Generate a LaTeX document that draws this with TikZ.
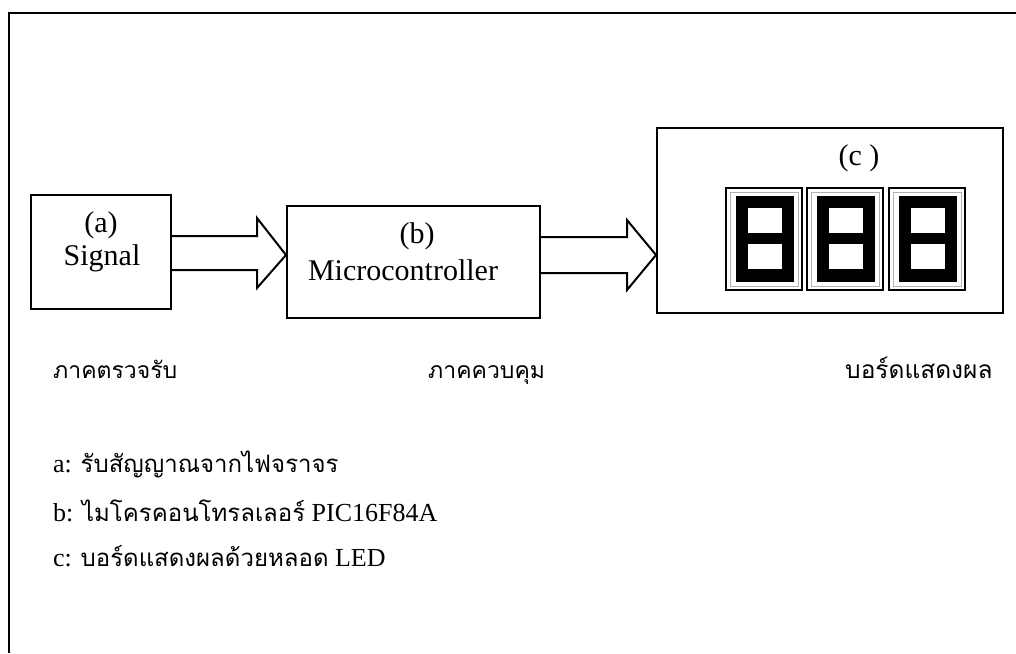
\documentclass[tikz,border=0pt]{standalone}
\usepackage{fontspec}
\setmainfont{Liberation Serif}
\newfontfamily\thai[Script=Thai]{Loma}
\usetikzlibrary{calc}
\tikzset{
  blk/.style={draw, line width=2pt, minimum width=0pt, inner sep=0pt},
  lbl/.style={font=\fontsize{30}{33}\selectfont, inner sep=0pt},
  tlbl/.style={font=\fontsize{23}{28}\selectfont\thai, inner sep=0pt, anchor=base west},
  note/.style={font=\fontsize{26}{30}\selectfont, inner sep=0pt, anchor=base west},
  blockarrow/.style={line width=2pt, line join=miter},
  frame/.style={line width=2.5pt}
}
\newcommand{\segdigit}[1]{%
  \draw[line width=1.6pt] (#1,188) rectangle ++(76,102);
  \draw[line width=1pt, gray!60] (#1+4,192) rectangle ++(68,94);
  \fill[black] (#1+10,196) rectangle (#1+68,282);
  \fill[white] (#1+22,208) rectangle (#1+56,233);
  \fill[white] (#1+22,244) rectangle (#1+56,269);
}
\newcommand{\thtext}[1]{{\fontsize{24}{28}\selectfont\thai #1}}
\begin{document}
\begin{tikzpicture}[x=1pt,y=-1pt]
\useasboundingbox (0,0) rectangle (1016,653);
\draw[frame] (9,653) -- (9,13) -- (1016,13);
% boxes
\node[blk, minimum width=140pt, minimum height=114pt] (a) at (101,252) {};
\node[blk, minimum width=253pt, minimum height=112pt] (b) at (413.5,262) {};
\node[blk, minimum width=346pt, minimum height=185pt] (c) at (830,220.5) {};
% box texts
\node[lbl] (ta) at (101,225) {(a)};
\node[lbl] (tsig) at (102,258) {Signal};
\node[lbl] (tb) at (417,236) {(b)};
\node[lbl] (tmc) at (403,270) {Microcontroller};
\node[lbl] (tc) at (859,158) {(c )};
% displays
\segdigit{726}
\segdigit{807}
\segdigit{889}
% block arrows
\draw[blockarrow] let \p1=(a.east), \p2=(b.west) in
  (\x1,-236pt) -- (\x2-29pt,-236pt) -- (\x2-29pt,-218pt) -- (\x2,-255pt)
  -- (\x2-29pt,-288pt) -- (\x2-29pt,-270pt) -- (\x1,-270pt);
\draw[blockarrow] let \p1=(b.east), \p2=(c.west) in
  (\x1,-237pt) -- (\x2-29pt,-237pt) -- (\x2-29pt,-220pt) -- (\x2,-255pt)
  -- (\x2-29pt,-290pt) -- (\x2-29pt,-273pt) -- (\x1,-273pt);
% section labels
\node[tlbl] (la) at (53,378) {ภาคตรวจรับ};
\node[tlbl] (lb) at (428,378) {ภาคควบคุม};
\node[tlbl, font=\fontsize{24.5}{28}\selectfont\thai] (lc) at (845,378) {บอร์ดแสดงผล};
% notes
\node[note] (na) at (53,472) {a: \thtext{รับสัญญาณจากไฟจราจร}};
\node[note] (nb) at (53,521) {b: \thtext{ไมโครคอนโทรลเลอร์} PIC16F84A};
\node[note] (nc) at (53,566) {c: \thtext{บอร์ดแสดงผลด้วยหลอด} LED};
\end{tikzpicture}
\end{document}
